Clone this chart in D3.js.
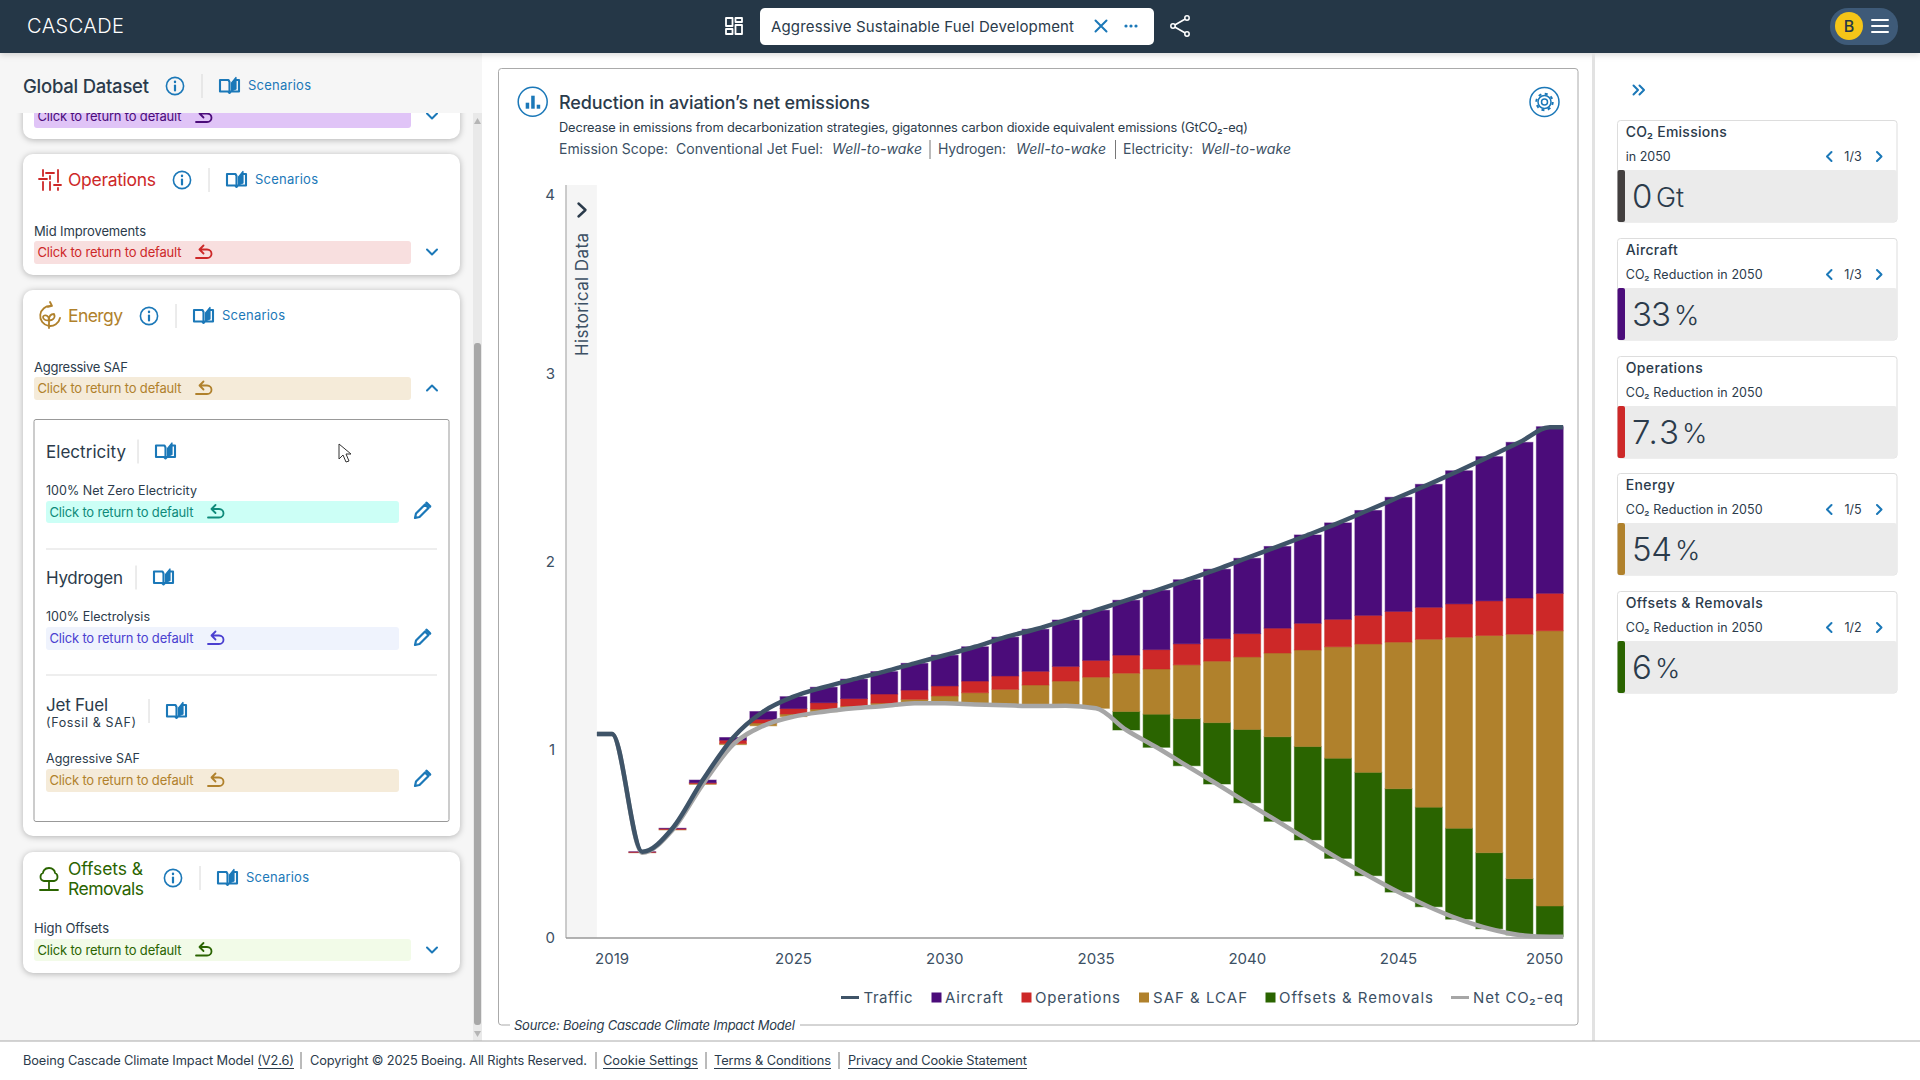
<!DOCTYPE html>
<html>
<head>
<meta charset="utf-8">
<title>Cascade</title>
<script src="https://cdn.jsdelivr.net/npm/d3@7/dist/d3.min.js"></script>
<style>
html, body { margin: 0; padding: 0; background: #fff; overflow: hidden; }
svg { display: block; }
text { font-family: Inter, "Open Sans", sans-serif; }
</style>
</head>
<body>
<div id="page"></div>
<script>
// chart values, gigatonnes
const years = d3.range(2019, 2051);
const tickYears = [2019, 2025, 2030, 2035, 2040, 2045, 2050];
const yTicks = [0, 1, 2, 3, 4];
const traffic = [1.084, 0.458, 0.583, 0.839, 1.064, 1.203, 1.282, 1.332, 1.375, 1.415, 1.459, 1.502, 1.547, 1.598, 1.640, 1.689,
    1.741, 1.794, 1.847, 1.902, 1.958, 2.019, 2.079, 2.141, 2.204, 2.272, 2.341, 2.410, 2.482, 2.557, 2.633, 2.713];
const netCO2 = [1.084, 0.453, 0.574, 0.816, 1.027, 1.127, 1.176, 1.202, 1.220, 1.232, 1.247, 1.247, 1.241, 1.236, 1.232, 1.234,
    1.220, 1.105, 1.013, 0.915, 0.818, 0.718, 0.620, 0.521, 0.423, 0.331, 0.244, 0.166, 0.100, 0.049, 0.016, 0.007];
const offsets = [0, 0, 0, 0, 0, 0, 0, 0, 0, 0, 0, 0, 0, 0, 0, 0,
    0, 0.098, 0.176, 0.250, 0.326, 0.390, 0.449, 0.496, 0.532, 0.549, 0.549, 0.529, 0.483, 0.404, 0.299, 0.163];
const saf = [0, 0.001, 0.002, 0.004, 0.006, 0.015, 0.014, 0.014, 0.012, 0.016, 0.021, 0.039, 0.062, 0.085, 0.112, 0.131,
    0.166, 0.204, 0.240, 0.286, 0.327, 0.385, 0.445, 0.513, 0.592, 0.682, 0.779, 0.892, 1.015, 1.154, 1.299, 1.462];
const operations = [0, 0.003, 0.005, 0.005, 0.018, 0.020, 0.029, 0.034, 0.040, 0.048, 0.049, 0.053, 0.062, 0.071, 0.073, 0.078,
    0.089, 0.096, 0.103, 0.112, 0.119, 0.124, 0.132, 0.142, 0.146, 0.152, 0.163, 0.170, 0.177, 0.184, 0.192, 0.199];
const aircraft = [0, 0.001, 0.002, 0.014, 0.014, 0.041, 0.063, 0.082, 0.103, 0.119, 0.142, 0.163, 0.182, 0.206, 0.223, 0.246,
    0.266, 0.291, 0.315, 0.340, 0.369, 0.400, 0.434, 0.469, 0.512, 0.557, 0.606, 0.653, 0.707, 0.766, 0.827, 0.885];

const legendNames = ["Traffic", "Aircraft", "Operations", "SAF & LCAF", "Offsets & Removals", "Net CO₂-eq"];

const cardTitles = ["CO₂ Emissions", "Aircraft", "Operations", "Energy", "Offsets & Removals"];
const cardSubs = ["in 2050", "CO₂ Reduction in 2050", "CO₂ Reduction in 2050", "CO₂ Reduction in 2050", "CO₂ Reduction in 2050"];
const cardValues = ["0", "33", "7.3", "54", "6"];
const cardUnits = ["Gt", "%", "%", "%", "%"];
const cardPages = ["1/3", "1/3", "", "1/5", "1/2"];

const colors = {aircraft: "#4b0c7a", operations: "#cd2828", saf: "#b0812c", offsets: "#2a6400",
    traffic: "#3f5468", net: "#a6a6a6", ink: "#2b3b4b", blue: "#1b78b8", dark: "#253747"};

const svg = d3.select("#page").append("svg").attr("width", 1920).attr("height", 1080);

function txt(parent, x, y, str, o) {
    o = o || {};
    let t = parent.append("text")
        .attr("x", x)
        .attr("y", y)
        .attr("dominant-baseline", "central")
        .attr("font-size", o.size || 13)
        .attr("fill", o.color || colors.ink)
        .attr("font-weight", o.weight || 400)
        .attr("text-anchor", o.anchor || "start")
        .text(str);
    if (o.italic) t.attr("font-style", "italic");
    if (o.w) t.attr("textLength", o.w).attr("lengthAdjust", "spacing");
    return t;
}

function box(parent, x, y, w, h, fill, r, stroke) {
    return parent.append("rect")
        .attr("x", x).attr("y", y).attr("width", w).attr("height", h)
        .attr("rx", r || 0)
        .attr("fill", fill)
        .attr("stroke", stroke || "none");
}

function vline(parent, x, y0, y1, color) {
    parent.append("line").attr("x1", x).attr("x2", x).attr("y1", y0).attr("y2", y1)
        .attr("stroke", color || "#d8d8d8");
}

function icon(parent, x, y, d, color, width, fill) {
    parent.append("path")
        .attr("transform", `translate(${x},${y})`)
        .attr("d", d)
        .attr("fill", fill || "none")
        .attr("stroke", color)
        .attr("stroke-width", width || 2)
        .attr("stroke-linecap", "round")
        .attr("stroke-linejoin", "round");
}

function bookIcon(parent, x, y) {
    icon(parent, x, y, "M1 3 L9.5 3 L10.5 5 L10.5 16 L9 14.5 L1 14.5 Z M10.5 16 L12 14.5 L20 14.5 L20 3 L17 3", colors.blue, 2.1);
    icon(parent, x, y, "M12.5 14 L12.5 6 L17 0.5 L17 12 Z", colors.blue, 1.2, colors.blue);
}

function infoIcon(parent, x, y) {
    parent.append("circle").attr("cx", x).attr("cy", y).attr("r", 8.6)
        .attr("fill", "none").attr("stroke", colors.blue).attr("stroke-width", 1.6);
    icon(parent, x, y, "M0 -0.5 L0 4.5", colors.blue, 2.2);
    icon(parent, x, y, "M0 -4.2 L0 -4", colors.blue, 2.4);
}

function chevDown(parent, x, y) { icon(parent, x, y, "M-5 -2.5 L0 2.5 L5 -2.5", colors.blue, 2); }
function chevUp(parent, x, y) { icon(parent, x, y, "M-5 2.5 L0 -2.5 L5 2.5", colors.blue, 2); }
function chevLeft(parent, x, y) { icon(parent, x, y, "M2.5 -4.5 L-2 0 L2.5 4.5", colors.blue, 2); }
function chevRight(parent, x, y) { icon(parent, x, y, "M-2 -4.5 L2.5 0 L-2 4.5", colors.blue, 2); }

function returnIcon(parent, x, y, color) {
    icon(parent, x, y, "M0 6 L11 6 C17 6 17 -2.5 11 -2.5 L3.5 -2.5 M7.5 -6.5 L3.5 -2.5 L7.5 1.5", color, 1.8);
}

function pencilIcon(parent, x, y) {
    icon(parent, x, y, "M-7 7 L-6 2.5 L3 -6.5 L6.5 -3 L-2.5 6 Z", colors.blue, 2.2);
    icon(parent, x, y, "M4.5 -8 L8 -4.5", colors.blue, 2.6);
}

// pill with the "return to default" label
function pill(parent, x, y, w, h, fill, color) {
    box(parent, x, y, w, h, fill, 3);
    txt(parent, x + 3.5, y + h / 2 - 0.5, "Click to return to default", {size: 13, color: color, w: 144});
    returnIcon(parent, x + 162, y + h / 2 - 0.5, color);
}

function heading(parent, x, y, o) {
    vline(parent, x, y - 12, y + 12);
    bookIcon(parent, x + 17, y - 9);
    if (o && o.label) txt(parent, x + 46, y - 0.8, "Scenarios", {size: 13, color: colors.blue, w: 63});
}

function sidebarCard(parent, y0, y1) {
    box(parent, 23, y0, 437, y1 - y0, "#fff", 10)
        .style("filter", "drop-shadow(0 1px 3px rgba(0,0,0,.28))");
}

// ---------- left panel ----------
const side = svg.append("g");
box(side, 0, 53, 482, 988, "#f6f6f6");

sidebarCard(side, 80, 139);
pill(side, 34, 105, 377, 23, "#e0c4f7", "#4b0c7a");
chevDown(side, 432, 116);

// sticky head of the panel hides the card above
box(side, 0, 53, 482, 60, "#f6f6f6");
txt(side, 23, 86, "Global Dataset", {size: 18.5, weight: 500, w: 126});
infoIcon(side, 175, 86);
heading(side, 202, 86, {label: true});

sidebarCard(side, 154, 275);
icon(side, 39, 170, "M4 0 L4 6 M0 9 L8 9 M4 12 L4 20 M11 6 L11 9 M7 3 L15 3 M11 12 L11 20 M19 0 L19 12 M15 15 L22 15 M19 18 L19 20", "#cd2828", 1.8);
txt(side, 68, 179.5, "Operations", {size: 17.5, color: "#cd2828", w: 88});
infoIcon(side, 182, 180);
heading(side, 209, 180, {label: true});
txt(side, 34, 230.5, "Mid Improvements", {w: 112});
pill(side, 34, 241, 377, 23, "#f8dfdf", "#cd2828");
chevDown(side, 432, 252);

sidebarCard(side, 290, 836);
icon(side, 39, 304, "M12 2 A10 10 0 1 0 21 14 M9 3 L13 2 L11 -2 M10 24 L10 16 C10 11 5 10 4 13 C4 16 8 17 10 16 C13 17 17 14 15 10 C12 10 10 12 10 16", "#b0812c", 1.8);
txt(side, 68, 315.5, "Energy", {size: 17.5, color: "#b0812c", w: 55});
infoIcon(side, 149, 316);
heading(side, 176, 316, {label: true});
txt(side, 34, 366.5, "Aggressive SAF", {w: 94});
pill(side, 34, 377, 377, 23, "#f5ebd9", "#b0812c");
chevUp(side, 432, 388);

box(side, 34, 419.5, 415, 402, "#fff", 2, "#999");
txt(side, 46, 451.5, "Electricity", {size: 17, w: 80});
heading(side, 138, 451.5);
txt(side, 46, 490, "100% Net Zero Electricity", {size: 12.5, w: 151});
pill(side, 46, 501, 353, 22, "#ccfff6", "#0e8a7a");
pencilIcon(side, 422, 511);
side.append("line").attr("x1", 46).attr("x2", 437).attr("y1", 549).attr("y2", 549).attr("stroke", "#ddd");

txt(side, 46, 577.5, "Hydrogen", {size: 17, w: 77});
heading(side, 136, 577.5);
txt(side, 46, 616, "100% Electrolysis", {size: 12.5, w: 104});
pill(side, 46, 627, 353, 23, "#eff3fd", "#4a3fd0");
pencilIcon(side, 422, 638);
side.append("line").attr("x1", 46).attr("x2", 437).attr("y1", 675).attr("y2", 675).attr("stroke", "#ddd");

txt(side, 46, 705, "Jet Fuel", {size: 17, w: 62});
txt(side, 46, 722, "(Fossil & SAF)", {size: 12.5, w: 90});
heading(side, 149, 711);
txt(side, 46, 758, "Aggressive SAF", {size: 12.5, w: 94});
pill(side, 46, 769, 353, 23, "#f5ebd9", "#b0812c");
pencilIcon(side, 422, 779);

// mouse pointer
side.append("path")
    .attr("transform", "translate(339,444)")
    .attr("d", "M0 0 L0 15 L4 11 L7 18 L10 17 L7 10 L12 10 Z")
    .attr("fill", "#fff").attr("stroke", "#333").attr("stroke-width", 1);

sidebarCard(side, 852, 973);
icon(side, 40, 868, "M9 0 C4 0 3 4 3 5 C0 6 -1 12 4 13 L14 13 C19 12 18 6 15 5 C15 3 13 0 9 0 Z M9 13 L9 22 M0 22 L18 22", colors.offsets, 1.8);
txt(side, 68, 868, "Offsets &", {size: 17.5, color: colors.offsets, w: 75});
txt(side, 68, 888, "Removals", {size: 17.5, color: colors.offsets, w: 76});
infoIcon(side, 173, 878);
heading(side, 200, 878, {label: true});
txt(side, 34, 928, "High Offsets", {w: 75});
pill(side, 34, 939, 377, 22, "#f2fbe8", colors.offsets);
chevDown(side, 432, 950);

// scrollbar
box(side, 473, 113, 9, 928, "#e9e9e9");
box(side, 474, 343, 7, 682, "#a8a8a8", 3);
side.append("path").attr("d", "M477.5 118 L481 124 L474 124 Z").attr("fill", "#b5b5b5");
side.append("path").attr("d", "M477.5 1037 L481 1031 L474 1031 Z").attr("fill", "#b5b5b5");

// ---------- top bar ----------
const topBar = svg.append("g");
box(topBar, 0, 0, 1920, 53, colors.dark).style("filter", "drop-shadow(0 2px 3px rgba(0,0,0,.15))");
txt(topBar, 27, 26, "CASCADE", {size: 20, color: "#fff", weight: 300, w: 97});
icon(topBar, 726, 18, "M0 0 L6.5 0 L6.5 8 L0 8 Z M9.5 0 L16 0 L16 4 L9.5 4 Z M9.5 7 L16 7 L16 16 L9.5 16 Z M0 11 L6.5 11 L6.5 16 L0 16 Z", "#fff", 1.8);
box(topBar, 760, 8, 394, 37, "#fff", 5);
txt(topBar, 771, 26, "Aggressive Sustainable Fuel Development", {size: 15, w: 303});
icon(topBar, 1101, 26, "M-5.5 -5.5 L5.5 5.5 M5.5 -5.5 L-5.5 5.5", colors.blue, 2);
topBar.selectAll(".dot").data([-5, 0, 5]).enter().append("circle")
    .attr("class", "dot").attr("cx", d => 1131 + d).attr("cy", 26).attr("r", 1.6).attr("fill", colors.blue);
icon(topBar, 1180, 26, "M7 -8 L-7 0 L7 8", "#fff", 1.6);
[[7, -8], [-7, 0], [7, 8]].forEach(p => {
    topBar.append("circle").attr("cx", 1180 + p[0]).attr("cy", 26 + p[1]).attr("r", 2.2)
        .attr("fill", colors.dark).attr("stroke", "#fff").attr("stroke-width", 1.5);
});
box(topBar, 1830, 8, 68, 37, "#3e5a78", 18);
topBar.append("circle").attr("cx", 1849).attr("cy", 26).attr("r", 14).attr("fill", "#f5c518");
txt(topBar, 1849, 26, "B", {size: 16, weight: 500, anchor: "middle", color: "#253747"});
icon(topBar, 1880, 26, "M-8 -6 L8 -6 M-8 0 L8 0 M-8 6 L8 6", "#fff", 2);

// ---------- chart box ----------
const main = svg.append("g");
box(main, 498.5, 68.5, 1079.5, 956.5, "#fff", 3, "#aaa");

main.append("circle").attr("cx", 532.7).attr("cy", 101.7).attr("r", 14.5)
    .attr("fill", "none").attr("stroke", colors.blue).attr("stroke-width", 1.5);
[[-7, 1, 3.5, 6], [-1.5, -6, 3.5, 13], [4, 3, 3.5, 4]].forEach(b => {
    box(main, 532.7 + b[0], 101.7 + b[1], b[2], b[3], colors.blue);
});
txt(main, 559, 102, "Reduction in aviation’s net emissions", {size: 18, weight: 500, w: 311});
txt(main, 559, 127, "Decrease in emissions from decarbonization strategies, gigatonnes carbon dioxide equivalent emissions (GtCO₂-eq)", {size: 12.8, w: 689});

const scopeColor = "#3c5064";
txt(main, 559, 148.5, "Emission Scope:", {size: 14, color: scopeColor, w: 109});
txt(main, 676, 148.5, "Conventional Jet Fuel:", {size: 14, color: scopeColor, w: 147});
txt(main, 832, 148.5, "Well-to-wake", {size: 14, color: scopeColor, italic: true, w: 90});
vline(main, 930, 140, 159, "#777");
txt(main, 938, 148.5, "Hydrogen:", {size: 14, color: scopeColor, w: 68});
txt(main, 1016, 148.5, "Well-to-wake", {size: 14, color: scopeColor, italic: true, w: 90});
vline(main, 1115.5, 140, 159, "#777");
txt(main, 1123, 148.5, "Electricity:", {size: 14, color: scopeColor, w: 70});
txt(main, 1201, 148.5, "Well-to-wake", {size: 14, color: scopeColor, italic: true, w: 90});

// gear button
main.append("circle").attr("cx", 1544.5).attr("cy", 102).attr("r", 14.5)
    .attr("fill", "none").attr("stroke", colors.blue).attr("stroke-width", 1.5);
main.append("circle").attr("cx", 1544.5).attr("cy", 102).attr("r", 3)
    .attr("fill", "none").attr("stroke", colors.blue).attr("stroke-width", 1.5);
main.append("circle").attr("cx", 1544.5).attr("cy", 102).attr("r", 6.5)
    .attr("fill", "none").attr("stroke", colors.blue).attr("stroke-width", 1.5);
main.append("circle").attr("cx", 1544.5).attr("cy", 102).attr("r", 8.2)
    .attr("fill", "none").attr("stroke", colors.blue).attr("stroke-width", 2).attr("stroke-dasharray", "3 3.44");

// ---------- plot ----------
const plot = {left: 566, right: 1564.9, top: 185, bottom: 938, bandLeft: 596.9};

const x = d3.scaleBand()
    .domain(years)
    .range([plot.bandLeft, plot.right])
    .paddingInner(0.114)
    .paddingOuter(0.057);
const y = d3.scaleLinear().domain([0, 4]).range([plot.bottom, plot.top]);

box(main, plot.left, plot.top, plot.bandLeft - plot.left, plot.bottom - plot.top, "#f5f5f5");
icon(main, 582, 210, "M-3.5 -6.5 L3.5 0 L-3.5 6.5", colors.ink, 2.4);
txt(main, 581.7, 294.5, "Historical Data", {size: 17, anchor: "middle", color: "#3c5064", w: 123})
    .attr("transform", "rotate(-90,581.7,294.5)");

// stacked pieces of each year, net emissions at the bottom stay invisible
const rows = years.map((yr, i) => ({year: yr, net: netCO2[i], offsets: offsets[i], saf: saf[i],
    operations: operations[i], aircraft: aircraft[i]}));
const layers = d3.stack().keys(["net", "offsets", "saf", "operations", "aircraft"])(rows);

main.selectAll(".layer")
    .data(layers.filter(l => l.key !== "net"))
    .enter()
    .append("g")
    .attr("class", "layer")
    .attr("fill", d => colors[d.key])
    .attr("stroke", d => colors[d.key])
    .attr("stroke-opacity", 0.5)
    .selectAll("rect")
    .data(d => d.filter(s => s[1] - s[0] > 0))
    .enter()
    .append("rect")
    .attr("x", d => x(d.data.year))
    .attr("y", d => y(d[1]))
    .attr("width", x.bandwidth())
    .attr("height", d => y(d[0]) - y(d[1]));

// axes
const yAxis = d3.axisLeft(y).tickValues(yTicks).tickSize(0).tickPadding(11).tickFormat(d3.format("d"));
const xAxis = d3.axisBottom(x).tickValues(tickYears).tickSize(0).tickPadding(15);

const gy = main.append("g").attr("transform", `translate(${plot.left},0)`).call(yAxis);
const gx = main.append("g").attr("transform", `translate(0,${plot.bottom})`).call(xAxis);
gy.select(".domain").remove();
gx.select(".domain").remove();
gy.selectAll("text").attr("font-size", 15).attr("fill", "#3c5064").style("font-family", "Inter");
gx.selectAll("text").attr("font-size", 15).attr("fill", "#3c5064").style("font-family", "Inter");
// the top label sits under the end of the axis, the last one is kept inside the plot
gy.selectAll("text").filter(d => d === 4).attr("dy", "0.95em");
gx.selectAll("text").filter(d => d === 2050).attr("text-anchor", "end").attr("x", x.bandwidth() / 2);

main.append("line").attr("x1", plot.left).attr("x2", plot.left).attr("y1", plot.top).attr("y2", plot.bottom)
    .attr("stroke", "#bbb").attr("stroke-width", 1.5);
main.append("line").attr("x1", plot.left).attr("x2", x(2050) + x.bandwidth()).attr("y1", plot.bottom).attr("y2", plot.bottom)
    .attr("stroke", "#999").attr("stroke-width", 1.5);

// lines run flat from the edge of the first band to the edge of the last one
function linePoints(values) {
    let pts = years.map((yr, i) => [x(yr) + x.bandwidth() / 2, y(values[i])]);
    pts.unshift([x(years[0]) - x.paddingOuter() * x.step(), y(values[0])]);
    pts.push([x(years[years.length - 1]) + x.bandwidth(), y(values[values.length - 1])]);
    return pts;
}
const line = d3.line().curve(d3.curveMonotoneX);

main.append("path").attr("d", line(linePoints(netCO2)))
    .attr("fill", "none").attr("stroke", colors.net).attr("stroke-width", 4.5);
main.append("path").attr("d", line(linePoints(traffic)))
    .attr("fill", "none").attr("stroke", colors.traffic).attr("stroke-width", 4.5);

// legend
const legendKeys = ["traffic", "aircraft", "operations", "saf", "offsets", "net"];
const legendSwatch = [841, 931.5, 1021.5, 1139, 1265.5, 1451];
const legendText = [863.5, 945, 1035, 1153, 1279, 1473];
const legendWidth = [49, 58, 85, 94, 154, 90];
const legendY = 997.5;
legendNames.forEach((name, i) => {
    let k = legendKeys[i];
    if (k === "traffic" || k === "net") {
        main.append("line").attr("x1", legendSwatch[i]).attr("x2", legendSwatch[i] + 18)
            .attr("y1", legendY).attr("y2", legendY)
            .attr("stroke", colors[k]).attr("stroke-width", 3);
    } else {
        box(main, legendSwatch[i], legendY - 5, 10, 10, colors[k]);
    }
    txt(main, legendText[i], legendY, name, {size: 15, color: "#3c5064", w: legendWidth[i]});
});

// source sits on the bottom border
box(main, 510, 1018, 290, 14, "#fff");
txt(main, 514, 1025, "Source: Boeing Cascade Climate Impact Model", {size: 13, italic: true, w: 281});

// ---------- right panel ----------
const right = svg.append("g");
box(right, 1592, 53, 3, 988, "#e2e2e2");
icon(right, 1639, 90, "M-5.5 -4.5 L-1 0 L-5.5 4.5 M0.5 -4.5 L5 0 L0.5 4.5", colors.blue, 2);

const stripColors = ["#423f3f", colors.aircraft, colors.operations, colors.saf, colors.offsets];
const cardY = [120.5, 238.5, 356.5, 473.5, 591.5];
const titleWidth = [101, 52, 77, 49, 137];
const valueWidth = [21, 39, 47, 40, 20];
cardTitles.forEach((title, i) => {
    let c = right.append("g").attr("transform", `translate(1617,${cardY[i]})`);
    box(c, 0.5, 0, 279.5, 101.5, "#fff", 3, "#ddd");
    box(c, 0.5, 49.5, 279.5, 52, "#ebebeb", 3);
    box(c, 0.5, 49.5, 7.5, 52, stripColors[i], 2);
    txt(c, 8.7, 11, title, {size: 14, weight: 500, w: titleWidth[i]});
    txt(c, 8.7, 35.5, cardSubs[i], {size: 12.5, w: i === 0 ? 45 : 137});
    if (cardPages[i]) {
        chevLeft(c, 212, 36);
        txt(c, 236, 36, cardPages[i], {size: 12.5, anchor: "middle"});
        chevRight(c, 262, 36);
    }
    txt(c, 15, 75, cardValues[i], {size: 33, weight: 300, w: valueWidth[i]});
    txt(c, 15 + valueWidth[i] + 3, 77, cardUnits[i], {size: 27, weight: 300});
});

// ---------- footer ----------
const foot = svg.append("g");
box(foot, 0, 1041, 1920, 39, "#fff");
foot.append("line").attr("x1", 0).attr("x2", 1920).attr("y1", 1041).attr("y2", 1041).attr("stroke", "#aaa");

function footLink(x0, w, str) {
    txt(foot, x0, 1060, str, {size: 12.8, w: w});
    foot.append("line").attr("x1", x0).attr("x2", x0 + w).attr("y1", 1068.5).attr("y2", 1068.5)
        .attr("stroke", "#2b3b4b");
}
txt(foot, 23, 1060, "Boeing Cascade Climate Impact Model (V2.6)", {size: 12.8, w: 271});
foot.append("line").attr("x1", 258).attr("x2", 294).attr("y1", 1068.5).attr("y2", 1068.5).attr("stroke", "#2b3b4b");
vline(foot, 301, 1052, 1069, "#777");
txt(foot, 310, 1060, "Copyright © 2025 Boeing. All Rights Reserved.", {size: 12.8, w: 277});
vline(foot, 596, 1052, 1069, "#777");
footLink(603, 95, "Cookie Settings");
vline(foot, 706, 1052, 1069, "#777");
footLink(714, 117, "Terms & Conditions");
vline(foot, 839, 1052, 1069, "#777");
footLink(848, 179, "Privacy and Cookie Statement");
</script>
</body>
</html>
